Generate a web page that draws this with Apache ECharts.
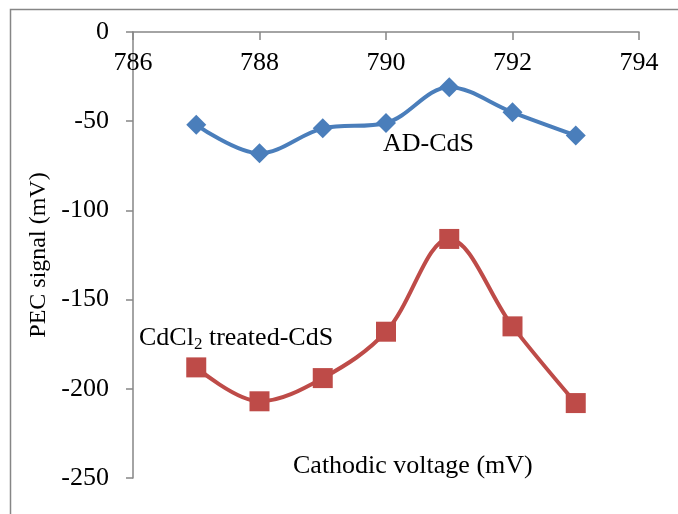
<!DOCTYPE html>
<html lang="en">
<head>
  <meta charset="UTF-8">
  <title>PEC signal vs cathodic voltage</title>
  <style>
    html, body { margin: 0; padding: 0; background: #fff; }
    #chart { width: 678px; height: 514px; }
  </style>
</head>
<body>
  <div id="chart"></div>
  <script src="https://cdn.jsdelivr.net/npm/echarts@6/dist/echarts.min.js"></script>
  <script>
    // cathodic voltage (mV)
    const voltage = [787, 788, 789, 790, 791, 792, 793];
    // PEC signal (mV)
    const adCdS = [-52, -68, -54, -51, -31, -45, -58];
    const cdcl2CdS = [-188, -207, -194, -168, -116, -165, -208];

    const serif = '"Liberation Serif", "Times New Roman", serif';

    window.onload = () => {
      const chart = echarts.init(document.getElementById('chart'));
      const option = {
        animation: false,
        textStyle: { fontFamily: serif },
        grid: { left: 133, right: 39, top: 32, bottom: 36 },
        xAxis: {
          type: 'value',
          position: 'top',
          min: 786, max: 794, interval: 2,
          splitLine: { show: false },
          axisLine: { lineStyle: { color: '#868686', width: 1.5 } },
          axisTick: { inside: true, length: 8, lineStyle: { color: '#868686', width: 1.5 } },
          axisLabel: { inside: true, margin: 18, color: '#000', fontSize: 26, fontFamily: serif }
        },
        yAxis: {
          type: 'value',
          min: -250, max: 0, interval: 50,
          splitLine: { show: false },
          axisLine: { show: true, lineStyle: { color: '#868686', width: 1.5 } },
          axisTick: { show: true, length: 7, lineStyle: { color: '#868686', width: 1.5 } },
          axisLabel: { margin: 24, color: '#000', fontSize: 26, fontFamily: serif },
          name: 'PEC signal (mV)',
          nameLocation: 'middle',
          nameGap: 74,
          nameTextStyle: { color: '#000', fontSize: 24, fontFamily: serif }
        },
        series: [
          {
            name: 'AD-CdS',
            type: 'line',
            smooth: 0.35,
            data: voltage.map((v, i) => [v, adCdS[i]]),
            symbol: 'diamond',
            symbolSize: 20,
            itemStyle: { color: '#4a7ebb' },
            lineStyle: { width: 4, color: '#4a7ebb' }
          },
          {
            name: 'CdCl2 treated-CdS',
            type: 'line',
            smooth: 0.35,
            data: voltage.map((v, i) => [v, cdcl2CdS[i]]),
            symbol: 'rect',
            symbolSize: 20,
            itemStyle: { color: '#be4b48' },
            lineStyle: { width: 4, color: '#be4b48' }
          }
        ],
        graphic: [
          { // outer frame
            type: 'rect', left: 8, top: 7, shape: { width: 680, height: 520 },
            style: { fill: 'none', stroke: '#868686', lineWidth: 1.5 }
          },
          {
            type: 'text', left: 383, top: 131,
            style: { text: 'AD-CdS', fontSize: 26, fontFamily: serif, fill: '#000' }
          },
          {
            type: 'text', left: 139, top: 325,
            style: {
              text: 'CdCl{sub|2} treated-CdS',
              fontSize: 26, fontFamily: serif, fill: '#000',
              rich: { sub: { fontSize: 17, fontFamily: serif, padding: [14, 0, 0, 0] } }
            }
          },
          {
            type: 'text', left: 293, top: 453,
            style: { text: 'Cathodic voltage (mV)', fontSize: 26, fontFamily: serif, fill: '#000' }
          }
        ]
      };
      chart.setOption(option);
    };
  </script>
</body>
</html>
